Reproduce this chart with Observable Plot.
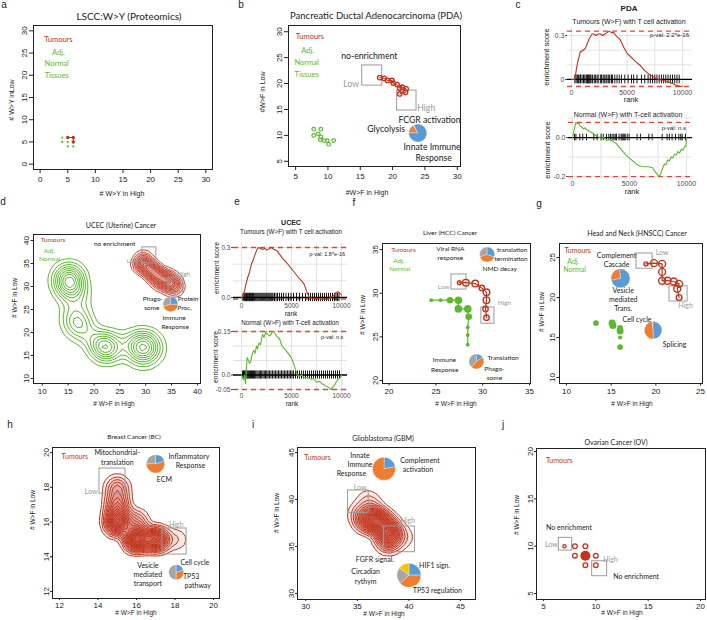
<!DOCTYPE html>
<html><head><meta charset="utf-8">
<script src="https://cdn.jsdelivr.net/npm/d3@7"></script>
<script src="https://cdn.jsdelivr.net/npm/@observablehq/plot@0.6"></script>
<style>
body{margin:0;background:#fff;}
#wrap{position:relative;width:707px;height:620px;overflow:hidden;background:#fff;font-family:"Liberation Sans",Arial,sans-serif;}
#wrap svg{position:absolute;background:transparent;overflow:visible;}
.t{position:absolute;white-space:nowrap;line-height:1;}
</style></head><body><div id="wrap"></div>
<script>
// ---------------- DATA ----------------
// a: LSCC proteomics
const aTumX = [5, 6, 6], aTumY = [6, 6, 5];
const aNorX = [4, 4, 5, 5, 6], aNorY = [6, 5, 5, 4, 4];
// b: PDA
const bTumX = [18.0, 18.7, 19.2, 19.9, 20.1, 20.7, 21.1, 21.5, 22.1, 21.1, 22.0];
const bTumY = [21.15, 21.0, 20.6, 20.6, 20.1, 19.8, 19.1, 19.3, 19.0, 18.0, 18.3];
const bNorX = [7.8, 8.9, 8.5, 7.8, 8.9, 8.8, 9.4, 9.9, 10.9, 10.1];
const bNorY = [11.2, 11.2, 10.3, 10.0, 9.7, 9.2, 9.0, 9.0, 9.0, 8.3];
// c: PDA GSEA
const cTumRank = [0,300,400,500,600,700,800,900,1000,1100,1200,1300,1450,1600,1700,1850,2000,2200,2400,2600,2800,3000,3200,3400,3600,3800,4000,4400,4700,5000,5400,5800,6200,6600,7000,7400,7800,8200,8600,9000,9400,9800,10000];
const cTumES = [0,0,0.05,0.095,0.13,0.16,0.19,0.19,0.2,0.2,0.21,0.22,0.25,0.28,0.29,0.31,0.31,0.3,0.31,0.31,0.3,0.31,0.32,0.33,0.32,0.32,0.3,0.27,0.22,0.18,0.15,0.12,0.095,0.06,0.035,0.016,0,-0.005,-0.014,-0.025,-0.038,-0.048,-0.045];
const cTumHits = [300,420,550,640,760,820,950,1080,1150,1300,1380,1450,1520,1600,1690,1760,1900,2050,2150,2300,2400,2600,2700,2850,2950,3100,3200,3350,3450,3600,3700,3900,4100,4300,4500,4800,5100,5400,5600,5900,6300,6600,6900,7100,7300,7500,7700,7900,8100,8300,8500,8700,8900,9100,9300,9500,9700];
const cNorRank = [0,150,300,450,550,650,800,950,1100,1250,1400,1550,1700,1850,2000,2200,2370,2550,2700,2900,3100,3250,3400,3600,3830,4100,4400,4700,5000,5300,5600,5880,6100,6400,6700,7020,7250,7450,7630,7800,7950,8070,8200,8350,8500,8650,8800,8950,9100,9250,9390,9550,9700,9820,9950,10000];
const cNorES = [0,0.04,0.078,0.07,0.075,0.06,0.055,0.045,0.05,0.04,0.036,0.03,0.025,0.02,0.012,0.005,0,-0.005,0.002,-0.008,-0.012,-0.005,-0.015,-0.022,-0.03,-0.05,-0.07,-0.09,-0.105,-0.12,-0.135,-0.144,-0.148,-0.15,-0.15,-0.155,-0.175,-0.19,-0.2,-0.175,-0.15,-0.135,-0.14,-0.115,-0.12,-0.1,-0.105,-0.085,-0.09,-0.072,-0.08,-0.06,-0.065,-0.05,-0.04,0];
const cNorHits = [175,300,640,900,1230,1870,2160,2510,2700,2980,3190,3330,3480,3630,3750,3860,4090,4270,4350,4450,4540,4620,4800,4970,5670,5960,6700,6990,7870,8300,8500,8740,9040,9330,9500,9620,9910];
// d: UCEC
const dNorX = [14,15,16,15,16,15,14,17,16,17,16,17,18,17,19,21,22,23,22,21,23,24,26,28,29,30,31,29,30,32,28];
const dNorY = [32,33,32,31,30,29,30,28,26,24,23,22,21,21,19,18,17,16,16,17,18,17,17,18,17,18,17,15,15,16,16];
const dNorW = [2,2,3,3,2,2,1,2,1,1,2,2,1,2,1,2,3,2,2,1,1,1,1,2,3,3,2,2,2,1,1];
const dTumX = [29,29.5,30,30,31,31,32,32,33,33,34,34,35,35,36];
const dTumY = [35,36,35,34,34,33,33,32,32,31,32,31,31,30,30];
// e: UCEC GSEA
const eTumRank = [0,100,300,450,620,800,990,1150,1300,1500,1670,1850,2000,2180,2350,2500,2700,2850,3030,3200,3540,3800,4100,4500,4900,5300,5700,6000,6260,6500,6770,7100,7500,7900,8300,8640,8900,9200,9450,9660,9850,10000];
const eTumES = [0,0,0.04,0.08,0.12,0.15,0.2,0.22,0.25,0.28,0.3,0.295,0.29,0.29,0.295,0.285,0.29,0.295,0.3,0.29,0.28,0.26,0.235,0.21,0.18,0.15,0.12,0.1,0.08,0.04,0,-0.005,-0.005,-0.008,-0.01,-0.01,0,0.01,0.03,0.035,0.025,0.015];
const eTumHits = [150,250,330,420,500,580,650,730,800,880,950,1030,1100,1180,1260,1350,1450,1550,1650,1750,1850,1950,2050,2150,2250,2350,2450,2550,2650,2750,2850,2950,3050,3150,3300,3450,3600,3800,4000,4200,4450,4700,4950,5200,5500,5800,6100,6400,6700,6900,7100,7300,7500,7700,7900,8100,8300,8500,8700,8900,9100,9300,9450,9600,9750];
const eNorRank = [0,150,230,300,400,500,570,700,800,910,1050,1230,1350,1500,1600,1760,1900,2100,2250,2450,2600,2800,2950,3100,3230,3400,3600,3800,4050,4300,4550,4900,5100,5300,5580,5800,6000,6300,6600,6940,7200,7500,7800,8050,8300,8550,8800,8980,9150,9300,9450,9660,9850,10000];
const eNorES = [0,-0.01,-0.015,0,-0.03,0.03,0.06,0.05,0.04,0.045,0.07,0.085,0.075,0.1,0.09,0.11,0.105,0.14,0.13,0.15,0.14,0.135,0.14,0.15,0.15,0.14,0.13,0.125,0.1,0.09,0.08,0.064,0.05,0.03,0,-0.005,0,-0.01,-0.008,-0.015,-0.012,-0.025,-0.022,-0.03,-0.035,-0.04,-0.045,-0.05,-0.04,-0.035,-0.025,-0.015,-0.01,0];
const eNorHits = [100,200,300,380,470,560,640,720,810,900,1000,1100,1200,1300,1420,1540,1660,1780,1900,2020,2150,2280,2400,2530,2660,2800,2950,3100,3250,3400,3550,3700,3850,4000,4150,4300,4450,4600,4750,4900,5050,5200,5400,5600,5800,6000,6200,6400,6600,6800,7000,7200,7400,7600,7800,8000,8200,8400,8600,8800,9000,9200,9400,9600,9800];
// f: HCC
const fTumX = [27.5, 28.2, 29.2, 29.9, 30.4, 30.4, 30.3, 30.4];
const fTumY = [31.2, 31.2, 31.1, 30.6, 30.1, 29.2, 28.2, 27.2];
const fTumN = [1, 3, 3, 2, 3, 3, 2, 2];
const fNorX = [24.5, 25.5, 26.5, 27.4, 27.4, 28.4, 28.5, 28.4, 28.4, 28.4];
const fNorY = [29.2, 29.2, 29.2, 29.2, 28.2, 28.2, 27.3, 26.1, 25.2, 24.1];
const fNorN = [1, 1, 3, 4, 4, 4, 3, 1, 1, 1];
// g: HNSCC
const gTumX = [18.9, 19.8, 20.7, 20.7, 20.7, 21.3, 22.0, 22.6, 22.4, 22.6];
const gTumY = [24.2, 24.3, 24.2, 23.2, 22.1, 22.1, 22.0, 21.7, 21.1, 20.0];
const gTumN = [1, 3, 3, 3, 3, 3, 3, 3, 3, 2];
const gNorX = [13.3, 15.1, 15.2, 16.0, 16.0, 16.0, 16.0];
const gNorY = [16.8, 16.8, 16.5, 16.2, 15.8, 15.0, 13.8];
const gNorN = [2, 3, 3, 2, 3, 1, 2];
// h: BC
const hX = [15, 15, 15, 16, 16, 17, 18];
const hY = [18, 17, 16, 16, 15, 15, 15];
const hW = [2, 3, 6, 2, 6, 5, 1];
// i: GBM
const iX = [36, 35, 36, 37, 38, 38, 38, 39.5, 36.5, 37.5];
const iY = [40, 38.5, 37.8, 37.8, 37, 36, 35.2, 36, 39, 37.5];
const iW = [1, 1, 5, 4, 3, 5, 1, 1, 1, 2];
// j: OV
const jX = [7, 8, 9, 8, 9, 10, 9, 10];
const jY = [10, 10, 10, 9, 9, 9, 8, 8];
const jN = [1, 2, 2, 2, 9, 2, 2, 2];

// pie slice fractions
const bPie = {x: 23.9, y: 10.45, r: 9, start: 115, parts: [0.02, 0.15, 0.83], colors: ["gray", "orange", "blue"]};
const dPie = {x: 34.8, y: 26.15, r: 7.5, start: 90, parts: [0.3, 0.45, 0.25], colors: ["gray", "orange", "blue"]};
const fPie1 = {x: 30.47, y: 34.43, r: 7.5, start: 90, parts: [0.3, 0.4, 0.3], colors: ["gray", "orange", "blue"]};
const fPie2 = {x: 29.33, y: 22.18, r: 7.5, start: 90, parts: [0.38, 0.47, 0.15], colors: ["gray", "orange", "blue"]};
const gPie1 = {x: 16.05, y: 22.4, r: 9.5, start: 95, parts: [0.27, 0.73], colors: ["orange", "blue"]};
const gPie2 = {x: 19.7, y: 15.9, r: 8.8, start: 92, parts: [0.02, 0.48, 0.5], colors: ["gray", "orange", "blue"]};
const hPie1 = {x: 16.99, y: 19.35, r: 9.2, start: 90, parts: [0.25, 0.55, 0.2], colors: ["gray", "orange", "blue"]};
const hPie2 = {x: 18.06, y: 13.11, r: 7.5, start: 90, parts: [0.5, 0.3, 0.2], colors: ["gray", "orange", "blue"]};
const iPie1 = {x: 37.58, y: 43.27, r: 11.5, start: 10, parts: [0.22, 0.78], colors: ["blue", "orange"]};
const iPie2 = {x: 40.0, y: 31.95, r: 12, start: 0, parts: [0.25, 0.15, 0.22, 0.38], colors: ["blue", "yellow", "gray", "orange"]};

// annotations: [text, x, y, colourKey]
const aNotes = [["Tumours",3.3,28.1,"r"],["Adj.",3.3,25.1,"g"],["Normal",3.0,22.6,"g"],["Tissues",3.0,19.9,"g"]];
const bNotesS = [["Tumours",7.2,29.0,"r"],["Adj.",6.85,26.3,"g"],["Normal",6.7,24.0,"g"],["Tissues",6.7,21.7,"g"]];
const bNotesL = [["no-enrichment",16.4,25.2,"k"],["Low",13.6,19.9,"s"],["High",25.2,15.3,"s"],["FCGR activation",25.7,13.0,"k"],["Glycolysis",19.0,11.1,"k"],["Innate Immune",26.1,7.75,"k"],["Response",26.35,5.6,"k"]];
const bBoxes = [[15.3,18.4,19.6,23.5],[20.7,23.7,14.8,18.65]];
const dNotes = [["Tumours",12.07,40.2,"r"],["Adj.",11.35,37.8,"g"],["Normal",11.4,36.0,"g"],["no enrichment",24.0,39.3,"k"],["Low",27.5,35.65,"s"],["High",37.35,32.8,"s"],["Phago-",31.4,27.4,"k"],["some",31.2,25.3,"k"],["Protein",38.2,27.2,"k"],["Proc,",37.5,25.3,"k"],["Immune",35.5,23.2,"k"],["Response",35.7,21.15,"k"]];
const dBoxes = [[29.35,32.06,35.0,38.5],[34.4,37.3,28.7,31.96]];
const fNotes = [["Tumours",21.54,35.0,"r"],["Adj.",21.04,33.75,"g"],["Normal",21.14,32.8,"g"],["Viral RNA",26.55,35.1,"k"],["response",26.55,34.0,"k"],["translation",33.14,35.0,"k"],["termination",33.03,33.97,"k"],["NMD decay",31.81,32.8,"k"],["Low",25.84,30.77,"s"],["High",32.32,28.9,"s"],["Immune",25.91,22.37,"k"],["Response",25.94,21.26,"k"],["Translation",32.18,22.55,"k"],["Phago-",31.25,21.37,"k"],["some",31.25,20.26,"k"]];
const fBoxes = [[26.66,28.27,30.42,32.14],[29.86,31.25,26.5,28.36]];
const gNotes = [["Tumours",11.25,25.8,"r"],["Adj.",10.75,24.5,"g"],["Normal",10.9,23.45,"g"],["Complement",15.6,25.25,"k"],["Cascade",15.6,24.1,"k"],["Vesicle",16.35,20.8,"k"],["mediated",16.35,19.66,"k"],["Trans.",16.35,18.54,"k"],["Low",20.7,25.6,"s"],["High",23.33,19.0,"s"],["Cell cycle",17.9,17.25,"k"],["Splicing",22.1,14.1,"k"]];
const gBoxes = [[17.84,19.63,23.6,25.5],[21.53,23.55,19.5,21.4]];
const hNotes = [["Tumours",12.8,19.77,"r"],["Mitochondrial-",15.0,19.96,"k"],["translation",15.0,19.44,"k"],["Low",13.65,17.76,"s"],["Inflammatory",18.72,19.77,"k"],["Response",18.8,19.25,"k"],["ECM",17.45,18.45,"k"],["High",18.06,15.84,"s"],["Vesicle",16.59,13.51,"k"],["mediated",16.59,12.98,"k"],["transport",16.59,12.44,"k"],["Cell cycle",19.03,13.65,"k"],["TP53",18.84,12.88,"k"],["pathway",19.18,12.33,"k"]];
const hBoxes = [[14.08,15.43,17.64,19.08],[17.35,18.6,14.13,15.63]];
const iNotes = [["Tumours",31.13,44.4,"r"],["Innate",35.26,44.68,"k"],["Immune",35.26,43.72,"k"],["Response",34.42,42.73,"k"],["Complement",41.07,44.15,"k"],["activation",40.87,43.16,"k"],["Low",35.26,41.3,"s"],["High",39.9,37.69,"s"],["FGFR signal.",36.7,33.6,"k"],["HIF1 sign.",42.49,32.98,"k"],["Circadian",35.8,32.27,"k"],["rythym",35.8,31.3,"k"],["TP53 regulation",42.75,30.24,"k"]];
const iBoxes = [[34.1,36.1,38.58,40.96],[37.58,40.58,34.39,37.13]];
const jNotes = [["Tumours",6.5,19.04,"r"],["No enrichment",7.44,11.9,"k"],["Low",5.76,10.17,"s"],["High",11.4,8.62,"s"],["No enrichment",13.85,6.8,"k"]];
const jBoxes = [[6.46,7.74,9.54,10.88],[9.65,11.08,6.83,8.41]];

// ---------------- HELPERS ----------------
const RED = "#c0341d", GREEN = "#5cb82e", GRAYT = "#9a9a9a", DASH = "#e0473c";
const PIEC = {blue: "#5b9bd5", orange: "#ed7d31", gray: "#a5a5a5", yellow: "#ffc000"};
const C = {r: RED, g: GREEN, k: "#222", s: GRAYT};
const SANS = '"Liberation Sans", Arial, sans-serif', MYR = 'Lato, "Open Sans", sans-serif';
const wrap = document.getElementById("wrap");

function txt(s, x, y, o = {}) {
  const d = document.createElement("div");
  d.className = "t"; d.textContent = s;
  d.style.left = x + "px"; d.style.top = y + "px";
  d.style.fontSize = (o.size || 7) + "px";
  d.style.color = o.color || "#222";
  d.style.fontFamily = o.family || SANS;
  if (o.weight) d.style.fontWeight = o.weight;
  d.style.transform = "translate(-50%,-50%)" + (o.rotate ? ` rotate(${o.rotate}deg)` : "");
  wrap.appendChild(d);
}
function mount(svg, left, top) { svg.style.left = left + "px"; svg.style.top = top + "px"; wrap.appendChild(svg); }
const zip = (xs, ys, ns) => xs.map((x, i) => ({x, y: ys[i], n: ns ? ns[i] : 1}));

function wedge(a0, a1) {
  return {draw(ctx, size) {
    const r = Math.sqrt(size / Math.PI);
    ctx.moveTo(0, 0);
    ctx.arc(0, 0, r, -a0 * Math.PI / 180, -a1 * Math.PI / 180, true);
    ctx.closePath();
  }};
}
function pieMarks(p) {
  let a = p.start; const out = [];
  p.parts.forEach((f, i) => {
    const a1 = a + f * 360;
    out.push(Plot.dot([p], {x: "x", y: "y", r: p.r, symbol: wedge(a, a1), fill: PIEC[p.colors[i]], stroke: "white", strokeWidth: 0.3}));
    a = a1;
  });
  return out;
}
function notes(arr, size) {
  const rows = arr.map(([t, x, y, c]) => ({t, x, y, c}));
  return Object.keys(C).map(k => Plot.text(rows.filter(d => d.c === k), {x: "x", y: "y", text: "t", fill: C[k], fontSize: size, fontFamily: MYR}));
}
function boxes(arr) {
  return Plot.rect(arr.map(([x1, x2, y1, y2]) => ({x1, x2, y1, y2})), {x1: "x1", x2: "x2", y1: "y1", y2: "y2", fill: "none", stroke: "#9a9a9a", strokeWidth: 1});
}
function scatter(o) {
  const [l, t, r, b] = o.frame; const ml = 30, mr = 6, mt = 6, mb = 26;
  const svg = Plot.plot({
    width: r - l + ml + mr, height: b - t + mt + mb,
    marginLeft: ml, marginRight: mr, marginTop: mt, marginBottom: mb,
    style: {fontFamily: SANS, fontSize: "8px", background: "transparent", overflow: "visible", color: "#222"},
    x: {domain: o.xd, ticks: o.xt, tickSize: o.ts, tickPadding: o.tp, label: null},
    y: {domain: o.yd, ticks: o.yt, tickSize: o.ts, tickPadding: o.tp, label: null, tickRotate: -90},
    r: o.rs,
    marks: [...o.marks, Plot.frame({stroke: "#222", strokeWidth: 1})]
  });
  mount(svg, l - ml, t - mt);
}
function gsea(o) {
  const [l, t, r, b] = o.area; const ml = 24, mr = 4, mt = 4, mb = 14;
  const data = o.rank.map((x, i) => ({x, y: o.es[i]}));
  const hi = d3.max(o.es), lo = d3.min(o.es);
  const svg = Plot.plot({
    width: r - l + ml + mr, height: b - t + mt + mb,
    marginLeft: ml, marginRight: mr, marginTop: mt, marginBottom: mb,
    style: {fontFamily: SANS, fontSize: o.fs + "px", background: "transparent", overflow: "visible", color: "#4d4d4d"},
    x: {domain: o.xd, ticks: [0, 5000, 10000], tickSize: 0, tickPadding: o.xpad, label: null, tickFormat: d3.format("d")},
    y: {domain: o.yd, ticks: o.yt, tickFormat: o.yf, tickSize: 2, tickPadding: 1, label: null},
    marks: [
      Plot.gridX([0, 2500, 5000, 7500, 10000], {stroke: "#e3e3e3", strokeOpacity: 1}),
      Plot.gridY(o.grid, {stroke: "#e3e3e3", strokeOpacity: 1}),
      Plot.ruleY([hi, lo], {stroke: DASH, strokeWidth: 1.3, strokeDasharray: "5,4"}),
      Plot.ruleX(o.hits, {y1: -o.rug, y2: o.rug, stroke: "#000", strokeWidth: 0.9}),
      Plot.ruleY([0], {stroke: "#000", strokeWidth: 1.3}),
      Plot.line(data, {x: "x", y: "y", stroke: o.color, strokeWidth: 1.1}),
      Plot.text([o.pval[0]], {x: o.pval[1], y: o.pval[2], text: d => d, fontSize: o.fs - 1, fill: "#222"})
    ]
  });
  mount(svg, l - ml, t - mt);
}

// ---------------- PANEL LETTERS ----------------
[["a",4,5],["b",241,5],["c",518,5],["d",3,202],["e",237,202],["f",354,203],["g",539,204],["h",10,425],["i",253,425],["j",503,425]]
  .forEach(([s, x, y]) => txt(s, x, y, {size: 10}));

// ---------------- a ----------------
txt("LSCC:W>Y (Proteomics)", 129, 16, {size: 10, family: MYR});
txt("# W>Y in High", 122, 193, {size: 7});
txt("# W>Y inLow", 11, 100, {size: 7, rotate: -90});
scatter({frame: [33, 25, 212, 169], xd: [-1.2, 31.2], yd: [-1.2, 31.2], xt: [0,5,10,15,20,25,30], yt: [0,5,10,15,20,25,30], ts: 4, tp: 3,
  marks: [
    Plot.line(zip(aTumX, aTumY), {x: "x", y: "y", stroke: RED, strokeWidth: 1}),
    Plot.dot(zip(aTumX, aTumY), {x: "x", y: "y", r: 1.7, fill: RED}),
    Plot.dot(zip(aNorX, aNorY), {x: "x", y: "y", r: 1.1, fill: GREEN}),
    ...notes(aNotes, 7.5)
  ]});

// ---------------- b ----------------
txt("Pancreatic Ductal Adenocarcinoma (PDA)", 376, 16, {size: 9.5, family: MYR});
txt("#W>F in High", 367, 192, {size: 7});
txt("#W>F in Low", 262, 92, {size: 7, rotate: -90});
scatter({frame: [288, 25, 460, 166], xd: [3.9, 30.5], yd: [4.0, 31.2], xt: [5,10,15,20,25,30], yt: [5,10,15,20,25,30], ts: 4, tp: 3,
  marks: [
    boxes(bBoxes),
    Plot.line(zip(bTumX, bTumY), {x: "x", y: "y", stroke: RED, strokeWidth: 1}),
    Plot.dot(zip(bTumX, bTumY), {x: "x", y: "y", r: 2.2, stroke: RED, strokeWidth: 1.3, fill: "none"}),
    Plot.dot(zip(bNorX, bNorY), {x: "x", y: "y", r: 1.8, stroke: GREEN, strokeWidth: 1.2, fill: "none"}),
    ...notes(bNotesS, 7.5), ...notes(bNotesL, 8.7),
    ...pieMarks(bPie)
  ]});

// ---------------- c ----------------
txt("PDA", 629, 9, {size: 8, weight: "bold"});
txt("Tumours (W>F) with T cell activation", 629, 21, {size: 7});
txt("enrichment score", 547, 57, {size: 7.5, rotate: -90, color: "#222"});
txt("rank", 631, 100, {size: 7.5});
gsea({area: [567, 28, 692, 87], xd: [-360, 10900], yd: [-0.055, 0.348], yt: [0, 0.3], yf: d => d === 0 ? "0" : "0.3",
  grid: [0, 0.1, 0.2, 0.3], rank: cTumRank, es: cTumES, hits: cTumHits, rug: 0.03, color: RED, xpad: 3, fs: 7,
  pval: ["p-val: 2.2*e-16", 8830, 0.3]});
txt("Normal (W>F) with T-cell activation", 628, 113.5, {size: 7});
txt("enrichment score", 548, 150, {size: 7.5, rotate: -90, color: "#222"});
txt("rank", 632, 191.5, {size: 7.5});
gsea({area: [568, 116, 692, 179], xd: [-350, 10530], yd: [-0.215, 0.108], yt: [-0.2, 0], yf: d => d === 0 ? "0.0" : "-0.2",
  grid: [-0.2, -0.1, 0, 0.1], rank: cNorRank, es: cNorES, hits: cNorHits, rug: 0.017, color: GREEN, xpad: 1.5, fs: 7,
  pval: ["p-val: n.s", 8890, 0.05]});

// ---------------- d ----------------
txt("UCEC (Uterine) Cancer", 121, 225, {size: 7, family: MYR});
txt("# W>F in High", 114, 404, {size: 6.5});
txt("# W>F in Low", 15, 298, {size: 6.5, rotate: -90});
scatter({frame: [33, 234, 200, 383], xd: [8.3, 40.6], yd: [8.9, 41.3], xt: [10,15,20,25,30,35,40], yt: [10,15,20,25,30,35,40], ts: 2.5, tp: 2,
  marks: [
    Plot.density(zip(dNorX, dNorY, dNorW), {x: "x", y: "y", weight: "n", bandwidth: 7, thresholds: 10, stroke: GREEN, strokeWidth: 1, clip: true}),
    Plot.density(zip(dTumX, dTumY), {x: "x", y: "y", bandwidth: 3.5, thresholds: 12, stroke: RED, strokeWidth: 0.9, fill: RED, fillOpacity: 0.06, clip: true}),
    boxes(dBoxes),
    ...notes(dNotes, 6.5),
    ...pieMarks(dPie)
  ]});

// ---------------- e ----------------
txt("UCEC", 291, 222, {size: 7, weight: "bold"});
txt("Tumours (W>F) with T cell activation", 291, 232, {size: 6.3});
txt("enrichment score", 217, 268, {size: 6.8, rotate: -90, color: "#222"});
txt("rank", 291, 314, {size: 6.5});
gsea({area: [233, 243, 347, 302], xd: [-800, 10600], yd: [-0.03, 0.324], yt: [0, 0.3], yf: d => d === 0 ? "0.0" : "0.3",
  grid: [0, 0.1, 0.2, 0.3], rank: eTumRank, es: eTumES, hits: eTumHits, rug: 0.025, color: RED, xpad: 1, fs: 6.5,
  pval: ["p-val: 1.8*e-16", 8570, 0.262]});
txt("Normal (W>F) with T-cell activation", 290, 322.5, {size: 6.3});
txt("enrichment score", 216, 357, {size: 6.8, rotate: -90, color: "#222"});
txt("rank", 292, 404, {size: 6.5});
gsea({area: [233, 327, 347, 392], xd: [-800, 10600], yd: [-0.0603, 0.1638], yt: [-0.05, 0, 0.15], yf: d => d === 0 ? "0.0" : String(d),
  grid: [-0.05, 0, 0.05, 0.1, 0.15], rank: eNorRank, es: eNorES, hits: eNorHits, rug: 0.014, color: GREEN, xpad: 1, fs: 6.5,
  pval: ["p-val: n.s", 9070, 0.13]});

// ---------------- f ----------------
txt("Liver (HCC) Cancer", 450, 233, {size: 6.5, family: MYR});
txt("# W>F in High", 456, 404, {size: 6.5});
txt("# W>F in Low", 363, 315, {size: 6.5, rotate: -90});
scatter({frame: [382, 243, 530, 383], xd: [19.3, 35.1], yd: [19.66, 35.69], xt: [20,25,30,35], yt: [20,25,30,35], ts: 2.5, tp: 2,
  rs: {type: "sqrt", domain: [0, 4], range: [0, 3.8]},
  marks: [
    boxes(fBoxes),
    Plot.line(zip(fTumX, fTumY), {x: "x", y: "y", stroke: RED, strokeWidth: 1.2}),
    Plot.dot(zip(fTumX, fTumY, fTumN), {x: "x", y: "y", r: "n", stroke: RED, strokeWidth: 1.4, fill: "none"}),
    Plot.line(zip(fNorX, fNorY), {x: "x", y: "y", stroke: GREEN, strokeWidth: 1.2}),
    Plot.dot(zip(fNorX, fNorY, fNorN), {x: "x", y: "y", r: "n", fill: GREEN}),
    ...notes(fNotes, 6.5),
    ...pieMarks(fPie1), ...pieMarks(fPie2)
  ]});

// ---------------- g ----------------
txt("Head and Neck (HNSCC) Cancer", 637, 233, {size: 7, family: MYR});
txt("# W>F in High", 632, 404, {size: 6.5});
txt("# W>F in Low", 542, 312, {size: 6.5, rotate: -90});
scatter({frame: [559, 243, 702, 383], xd: [9.22, 25.22], yd: [9.25, 26.75], xt: [10,15,20,25], yt: [10,15,20,25], ts: 2.5, tp: 2,
  rs: {type: "sqrt", domain: [0, 3], range: [0, 3.5]},
  marks: [
    boxes(gBoxes),
    Plot.line(zip(gTumX, gTumY), {x: "x", y: "y", stroke: RED, strokeWidth: 1.2}),
    Plot.dot(zip(gTumX, gTumY, gTumN), {x: "x", y: "y", r: "n", stroke: RED, strokeWidth: 1.4, fill: "none"}),
    Plot.dot(zip(gNorX, gNorY, gNorN), {x: "x", y: "y", r: "n", fill: GREEN}),
    ...notes(gNotes, 7),
    ...pieMarks(gPie1), ...pieMarks(gPie2)
  ]});

// ---------------- h ----------------
txt("Breast Cancer (BC)", 134, 437, {size: 6.5, family: MYR});
txt("# W>F in High", 136, 613, {size: 6.5});
txt("# W>F in Low", 33, 510, {size: 6.5, rotate: -90});
scatter({frame: [52, 447, 219, 598], xd: [11.64, 20.31], yd: [11.6, 20.29], xt: [12,14,16,18,20], yt: [12,14,16,18,20], ts: 2, tp: 1.5,
  marks: [
    Plot.density(zip(hX, hY, hW), {x: "x", y: "y", weight: "n", bandwidth: 5.5, thresholds: 16, stroke: RED, strokeWidth: 1, fill: RED, fillOpacity: 0.1, clip: true}),
    boxes(hBoxes),
    ...notes(hNotes, 7),
    ...pieMarks(hPie1), ...pieMarks(hPie2)
  ]});

// ---------------- i ----------------
txt("Glioblastoma (GBM)", 383, 438, {size: 7, family: MYR});
txt("# W>F in High", 384, 614, {size: 6.5});
txt("# W>F in Low", 277, 513, {size: 6.5, rotate: -90});
scatter({frame: [297, 447, 475, 599], xd: [29.2, 46.45], yd: [29.36, 45.53], xt: [30,35,40,45], yt: [30,35,40,45], ts: 2, tp: 1.5,
  marks: [
    Plot.density(zip(iX, iY, iW), {x: "x", y: "y", weight: "n", bandwidth: 5.5, thresholds: 16, stroke: RED, strokeWidth: 1, fill: RED, fillOpacity: 0.1, clip: true}),
    boxes(iBoxes),
    ...notes(iNotes, 7),
    ...pieMarks(iPie1), ...pieMarks(iPie2)
  ]});

// ---------------- j ----------------
txt("Ovarian Cancer (OV)", 616, 442, {size: 7, family: MYR});
txt("# W>F in High", 622, 613, {size: 6.5});
txt("# W>F in Low", 517, 515, {size: 6.5, rotate: -90});
scatter({frame: [536, 448, 705, 599], xd: [4.33, 20.48], yd: [4.37, 20.32], xt: [5,10,15,20], yt: [5,10,15,20], ts: 2, tp: 1.5,
  rs: {type: "sqrt", domain: [0, 9], range: [0, 5]},
  marks: [
    boxes(jBoxes),
    Plot.dot(zip(jX, jY, jN).filter(d => d.n < 4), {x: "x", y: "y", r: "n", stroke: RED, strokeWidth: 1.3, fill: "none"}),
    Plot.dot(zip(jX, jY, jN).filter(d => d.n >= 4), {x: "x", y: "y", r: "n", fill: RED}),
    ...notes(jNotes, 7)
  ]});
</script></body></html>
